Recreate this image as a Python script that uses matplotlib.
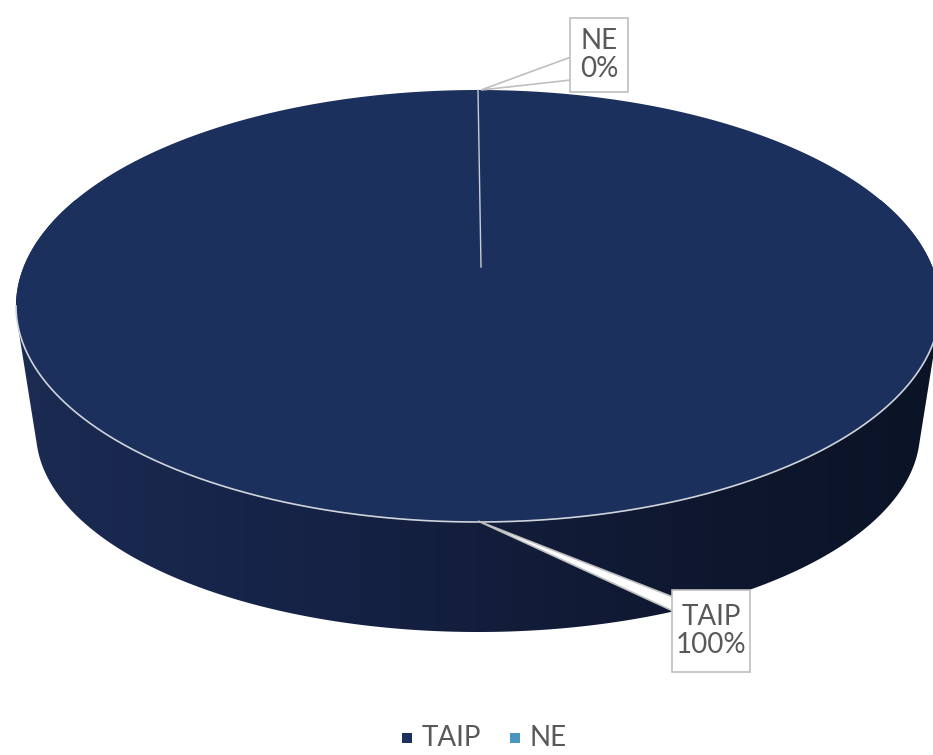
import numpy as np
import matplotlib
matplotlib.use("Agg")
import matplotlib.pyplot as plt
from matplotlib.patches import Polygon
from matplotlib.colors import LinearSegmentedColormap

# ---- data ----
categories = ["TAIP", "NE"]
values = [100, 0]
pct_labels = ["100%", "0%"]
colors = ["#1b305c", "#4a96c0"]

W, H = 933, 755
fig = plt.figure(figsize=(W / 100, H / 100), dpi=100)
ax = fig.add_axes([0, 0, 1, 1])
ax.set_xlim(0, W)
ax.set_ylim(H, 0)
ax.axis("off")

FONT = ["Lato", "DejaVu Sans"]
TXT = "#595959"

# geometry of the 3D pie (pixel coordinates)
cx_t, cy_t, a_t, b_t = 478, 306, 462, 216     # top face ellipse
cx_b, cy_b, a_b, b_b = 478, 432, 442, 200     # bottom ellipse
pcx, pcy = 481, 267                           # projected pie centre


def top_pt(theta):
    return cx_t + a_t * np.cos(np.radians(theta)), cy_t - b_t * np.sin(np.radians(theta))


t = np.linspace(0, 2 * np.pi, 720, endpoint=False)
pts = np.vstack([
    np.column_stack([cx_t + a_t * np.cos(t), cy_t + b_t * np.sin(t)]),
    np.column_stack([cx_b + a_b * np.cos(t), cy_b + b_b * np.sin(t)]),
])


def hull(p):
    p = sorted(map(tuple, p))
    def cross(o, a, b):
        return (a[0] - o[0]) * (b[1] - o[1]) - (a[1] - o[1]) * (b[0] - o[0])
    lower, upper = [], []
    for q in p:
        while len(lower) >= 2 and cross(lower[-2], lower[-1], q) <= 0:
            lower.pop()
        lower.append(q)
    for q in reversed(p):
        while len(upper) >= 2 and cross(upper[-2], upper[-1], q) <= 0:
            upper.pop()
        upper.append(q)
    return np.array(lower[:-1] + upper[:-1])


hp = hull(pts)
side_poly = Polygon(hp, closed=True, facecolor="none", edgecolor="none")
ax.add_patch(side_poly)
cmap = LinearSegmentedColormap.from_list(
    "side", ["#1b2b52", "#17244a", "#131e3c", "#0e172e", "#0b1326"])
grad = np.linspace(0, 1, 256).reshape(1, -1)
im = ax.imshow(grad, cmap=cmap, extent=[10, 945, 640, 200], aspect="auto", zorder=1)
im.set_clip_path(side_poly)

# top face slices from values
total = sum(values)
start = 90.0
for v, c in zip(values, colors):
    sweep = 360.0 * v / total
    if sweep <= 0:
        continue
    ang = np.linspace(start, start - sweep, 400)
    xs, ys = top_pt(ang)
    if sweep >= 359.999:
        poly = np.column_stack([xs, ys])
    else:
        poly = np.vstack([[pcx, pcy], np.column_stack([xs, ys])])
    ax.add_patch(Polygon(poly, closed=True, facecolor=c, edgecolor="none", zorder=2))
    start -= sweep

# light rim on front edge of top face
tt = np.linspace(0, np.pi, 400)
ax.plot(cx_t + a_t * np.cos(tt), cy_t + b_t * np.sin(tt), color="#d0d4dc", lw=1.2, zorder=3)

# slice boundary line
bx, by = top_pt(90)
ax.plot([pcx, bx], [pcy, by], color="#c8ccd4", lw=1.0, zorder=3)


def callout(box, tip, attach_y, text):
    x0, y0, x1, y1 = box
    ax.add_patch(Polygon([[x0, y0], [x1, y0], [x1, y1], [x0, y1]], closed=True,
                         facecolor="white", edgecolor="#bfbfbf", lw=1.2, zorder=5))
    ax.add_patch(Polygon([[x0 + 1, attach_y[0]], [tip[0], tip[1]], [x0 + 1, attach_y[1]]], closed=True,
                         facecolor="white", edgecolor="#bfbfbf", lw=1.2, zorder=4))
    ax.text((x0 + x1) / 2, (y0 + y1) / 2, text, ha="center", va="center", fontsize=20,
            color=TXT, family=FONT, linespacing=1.1, zorder=6)


callout((570, 18, 628, 92), (481, 90), (57, 80), f"{categories[1]}\n{pct_labels[1]}")
mx, my = top_pt(90 - 180)
callout((672, 590, 750, 672), (mx, my - 1), (597, 611), f"{categories[0]}\n{pct_labels[0]}")

# legend
lx = [402, 510]
for x, c, name in zip(lx, colors, categories):
    ax.add_patch(Polygon([[x, 733], [x + 10, 733], [x + 10, 743], [x, 743]], closed=True,
                         facecolor=c, edgecolor="none"))
    ax.text(x + 20, 738, name, ha="left", va="center", fontsize=20, color=TXT, family=FONT)

fig.savefig("out.png", dpi=100)
